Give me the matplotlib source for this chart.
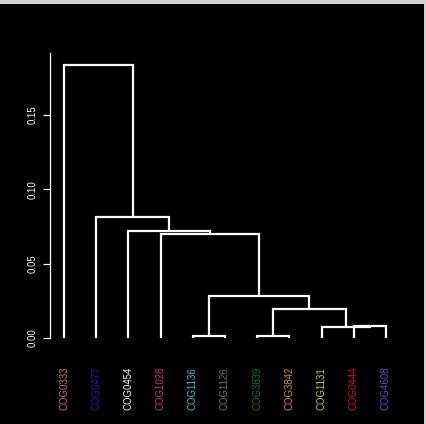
import matplotlib
matplotlib.use("Agg")
import matplotlib.pyplot as plt
from matplotlib.patches import Rectangle

labels = ["COG0333", "COG0477", "COG0454", "COG1028", "COG1136", "COG1126",
          "COG3839", "COG3842", "COG1131", "COG0444", "COG4608"]
label_colors = ["#D2783A", "#2020B8", "#FFFFFF", "#CC3377", "#40C4CC", "#5C8C2C",
                "#1F6E1F", "#E08C2C", "#D4C43C", "#D01818", "#7E40C8"]

# merges: (left child, right child, height); leaves are 0..10, clusters numbered from 11
merges = [
    (4, 5, 0.0015),    # 11: COG1136 + COG1126
    (6, 7, 0.0015),    # 12: COG3839 + COG3842
    (9, 10, 0.0080),   # 13: COG0444 + COG4608
    (8, 13, 0.0076),   # 14: COG1131 + 13
    (12, 14, 0.0195),  # 15
    (11, 15, 0.0283),  # 16
    (3, 16, 0.0700),   # 17: COG1028
    (2, 17, 0.0720),   # 18: COG0454
    (1, 18, 0.0814),   # 19: COG0477
    (0, 19, 0.1836),   # 20: COG0333
]
yticks = [0.00, 0.05, 0.10, 0.15]

W, H = 426, 424
fig = plt.figure(figsize=(W / 100, H / 100), dpi=100, facecolor="black")

# axes placement in pixels
x_left_px, x_right_px = 50, 402
y_top_px, y_bot_px = 48.1, 345.4
ax = fig.add_axes([x_left_px / W, 1 - y_bot_px / H,
                   (x_right_px - x_left_px) / W, (y_bot_px - y_top_px) / H])
ax.set_facecolor("black")
ax.set_xlim(0.565, 11.5)
ax.set_ylim(-0.005, 0.195)

pos = {i: i + 1 for i in range(len(labels))}
hgt = {i: 0.0 for i in range(len(labels))}
lw = 1.6
for k, (a, b, h) in enumerate(merges):
    xa, xb = pos[a], pos[b]
    ax.plot([xa, xa, xb, xb], [hgt[a], h, h, hgt[b]], color="white", lw=lw,
            solid_joinstyle="miter", solid_capstyle="butt")
    nid = len(labels) + k
    pos[nid] = (xa + xb) / 2
    hgt[nid] = h

for i, (lab, c) in enumerate(zip(labels, label_colors)):
    ax.text(i + 1, -0.0195, lab, rotation=90, ha="center", va="top", color=c,
            fontsize=6.9, family="Liberation Sans", clip_on=False)

for s in ["top", "right", "bottom"]:
    ax.spines[s].set_visible(False)
ax.spines["left"].set_color("white")
ax.spines["left"].set_linewidth(0.9)
ax.spines["left"].set_bounds(0, 0.1917)
ax.set_xticks([])
ax.set_yticks(yticks)
ax.set_yticklabels([f"{v:.2f}" for v in yticks], rotation=90, va="center",
                   color="white", fontsize=6.9, family="Liberation Sans")
ax.tick_params(axis="y", colors="white", length=5, width=0.9, pad=4)

# light border at top and right edges like the reference
fig.patches.append(Rectangle((0, 1 - 4 / H), 1, 4 / H, transform=fig.transFigure,
                             facecolor="#d0d0d0", edgecolor="none"))
fig.patches.append(Rectangle((1 - 2 / W, 0), 2 / W, 1, transform=fig.transFigure,
                             facecolor="#d0d0d0", edgecolor="none"))

fig.savefig("out.png", dpi=100, facecolor="black")
